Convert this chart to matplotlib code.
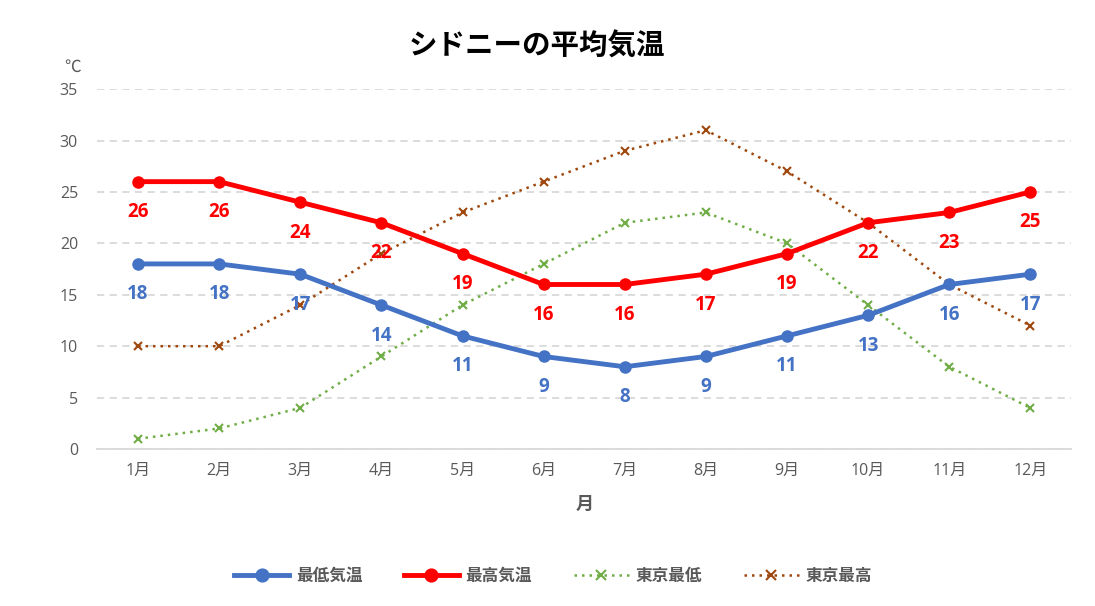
import matplotlib
matplotlib.use("Agg")
import matplotlib.pyplot as plt

plt.rcParams['font.family'] = ['Open Sans', 'Noto Sans CJK JP', 'DejaVu Sans']

months = ["1月", "2月", "3月", "4月", "5月", "6月", "7月", "8月", "9月", "10月", "11月", "12月"]
syd_min = [18, 18, 17, 14, 11, 9, 8, 9, 11, 13, 16, 17]
syd_max = [26, 26, 24, 22, 19, 16, 16, 17, 19, 22, 23, 25]
tok_min = [1, 2, 4, 9, 14, 18, 22, 23, 20, 14, 8, 4]
tok_max = [10, 10, 14, 19, 23, 26, 29, 31, 27, 22, 16, 12]
yticks = [0, 5, 10, 15, 20, 25, 30, 35]

blue = "#4472C4"
red = "#FF0000"
green = "#70AD47"
brown = "#9E480E"
gray = "#595959"

fig = plt.figure(figsize=(10.95, 6.06), dpi=100)
ax = fig.add_axes([0.089, 0.259, 0.889, 0.594])

x = list(range(1, len(months) + 1))
ax.plot(x, syd_min, color=blue, lw=3.5, marker='o', ms=8, label="最低気温", zorder=4)
ax.plot(x, syd_max, color=red, lw=3.5, marker='o', ms=8, label="最高気温", zorder=4)
ax.plot(x, tok_min, color=green, lw=1.8, ls=(0, (1, 2)), marker='x', ms=6, mew=1.5, label="東京最低", zorder=3)
ax.plot(x, tok_max, color=brown, lw=1.8, ls=(0, (1, 2)), marker='x', ms=6, mew=1.5, label="東京最高", zorder=3)

for xi, v in zip(x, syd_min):
    ax.annotate(str(v), (xi, v), xytext=(0, -22), textcoords='offset points',
                ha='center', va='center', color=blue, fontsize=13.5, fontweight='bold', zorder=5)
for xi, v in zip(x, syd_max):
    ax.annotate(str(v), (xi, v), xytext=(0, -22), textcoords='offset points',
                ha='center', va='center', color=red, fontsize=13.5, fontweight='bold', zorder=5)

ax.set_xlim(0.5, 12.5)
ax.set_ylim(0, 35)
ax.set_xticks(x)
ax.set_xticklabels(months)
ax.set_yticks(yticks)
ax.tick_params(axis='both', length=0, labelsize=11.5, colors=gray)
ax.tick_params(axis='x', pad=10)
ax.tick_params(axis='y', pad=14)
ax.grid(axis='y', color="#D9D9D9", ls=(0, (4, 3)), lw=1.3)
ax.set_axisbelow(True)
for s in ['top', 'right', 'left']:
    ax.spines[s].set_visible(False)
ax.spines['bottom'].set_color("#D9D9D9")
ax.spines['bottom'].set_linewidth(1.3)
ax.set_xlabel("月", fontsize=13, fontweight='bold', color=gray, labelpad=12)

fig.text(0.49, 0.922, "シドニーの平均気温", ha='center', va='center', fontsize=20.5, fontweight='bold', color='black')
fig.text(0.066, 0.888, "℃", ha='center', va='center', fontsize=12, color=gray)

leg = fig.legend(loc='center', bbox_to_anchor=(0.505, 0.05), ncol=4, frameon=False,
                 fontsize=12, handlelength=3.3, columnspacing=2.5, handletextpad=0.4,
                 markerscale=1.15)
for t in leg.get_texts():
    t.set_color(gray)
    t.set_fontweight('bold')

fig.savefig("out.png", dpi=100, facecolor='white')
